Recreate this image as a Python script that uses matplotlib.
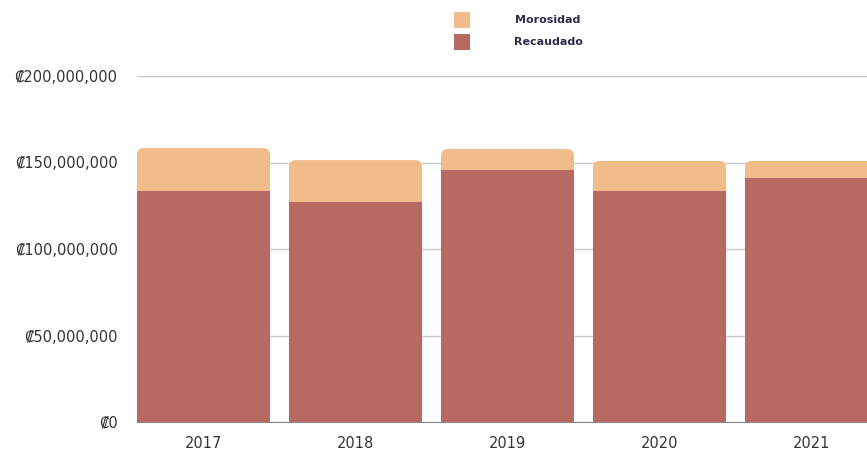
import matplotlib.pyplot as plt
from matplotlib.patches import FancyBboxPatch, Rectangle
from matplotlib.ticker import FuncFormatter

# --- data ---
years = ['2017', '2018', '2019', '2020', '2021']
recaudado = [133.5e6, 127.2e6, 145.7e6, 133.5e6, 141.0e6]
morosidad = [24.9e6, 24.2e6, 12.1e6, 17.4e6, 9.9e6]

col_moro = '#F0BC8A'
col_rec = '#B86A62'

fig = plt.figure(figsize=(8.67, 4.54), dpi=100)
# axes reach the right edge, the reference is cropped there
ax = fig.add_axes([137 / 867, 32 / 454, (867 - 137) / 867, 346 / 454])

x = list(range(len(years)))
width = 0.875
totals = [r + m for r, m in zip(recaudado, morosidad)]

ax.set_xlim(-width / 2, (867 - 137) / 152 - width / 2)
ax.set_ylim(0, 200e6)

# x units per px and y units per px -> aspect for round corners
x_per_px = 1 / 152
y_per_px = 200e6 / 346
aspect = y_per_px / x_per_px

# morosidad on top: rounded bar from 0 to total, covered below by recaudado
for xi, t in zip(x, totals):
    p = FancyBboxPatch((xi - width / 2, 0), width, t,
                       boxstyle=f"round,pad=0,rounding_size={7 * x_per_px}",
                       mutation_aspect=aspect, facecolor=col_moro,
                       edgecolor='none', zorder=2)
    ax.add_patch(p)

ax.bar(x, recaudado, width=width, color=col_rec, zorder=3)

ax.yaxis.set_major_formatter(FuncFormatter(lambda v, _: f'\u20a1{v:,.0f}'))
ax.set_yticks([0, 50e6, 100e6, 150e6, 200e6])
ax.set_xticks(x)
ax.set_xticklabels(years)
ax.tick_params(axis='both', length=0, labelsize=10.5, colors='#333333')
ax.tick_params(axis='y', pad=14)
ax.tick_params(axis='x', pad=10)
ax.grid(axis='y', color='#c8c8c8', linewidth=1, zorder=0)
ax.set_axisbelow(True)
for s in ['top', 'right', 'left']:
    ax.spines[s].set_visible(False)
ax.spines['bottom'].set_color('#888888')
ax.spines['bottom'].set_zorder(4)

# legend at top centre
for yy, c, lab in [(20, col_moro, 'Morosidad'), (42, col_rec, 'Recaudado')]:
    fig.add_artist(Rectangle((454 / 867, (454 - yy - 8) / 454), 16 / 867, 16 / 454,
                             transform=fig.transFigure, facecolor=c, edgecolor='none'))
    fig.text(548 / 867, (454 - yy) / 454, lab, ha='center', va='center',
             fontsize=8, fontweight='bold', color='#2b2d4a')

fig.savefig('out.png', dpi=100)
